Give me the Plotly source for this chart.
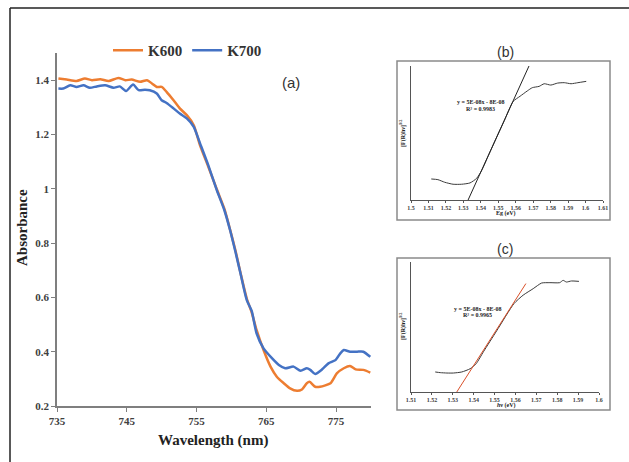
import plotly.graph_objects as go

W, H = 629, 462

# ---- main panel (a) data ----
k600_x = [735.2, 736.4, 737.8, 739.0, 740.0, 741.2, 742.4, 743.8, 744.8, 745.7, 746.9, 747.9,
          748.6, 749.3, 750.0, 750.7, 751.7, 752.6, 753.6, 754.6, 755.5, 756.7, 757.9, 759.0,
          759.8, 760.6, 761.3, 762.2, 762.9, 763.6, 764.6, 765.6, 766.5, 767.5, 768.4, 769.4,
          770.1, 770.8, 771.2, 772.0, 772.7, 774.2, 775.1, 776.1, 777.0, 777.8, 778.9, 779.9]
k600_y = [1.406, 1.402, 1.397, 1.406, 1.400, 1.403, 1.397, 1.408, 1.400, 1.402, 1.394, 1.400,
          1.388, 1.375, 1.375, 1.357, 1.326, 1.296, 1.271, 1.234, 1.160, 1.080, 0.998, 0.925,
          0.850, 0.770, 0.690, 0.595, 0.545, 0.480, 0.406, 0.345, 0.308, 0.284, 0.265, 0.256,
          0.261, 0.284, 0.289, 0.271, 0.271, 0.284, 0.320, 0.339, 0.347, 0.335, 0.333, 0.323]

k700_x = [735.2, 735.9, 736.9, 737.8, 738.8, 739.7, 740.7, 741.9, 743.1, 744.0, 744.9, 745.9,
          746.7, 747.6, 748.3, 749.3, 750.0, 750.7, 751.7, 752.6, 753.6, 754.6, 755.5, 756.7,
          757.9, 759.0, 759.8, 760.6, 761.3, 762.2, 762.9, 763.6, 764.6, 765.8, 766.8, 767.7,
          768.9, 769.9, 770.8, 771.3, 772.0, 773.0, 773.9, 774.9, 775.6, 776.1, 777.0, 778.0,
          778.9, 779.9]
k700_y = [1.369, 1.369, 1.381, 1.375, 1.381, 1.372, 1.377, 1.381, 1.372, 1.377, 1.360, 1.384,
          1.363, 1.365, 1.363, 1.351, 1.326, 1.316, 1.296, 1.277, 1.259, 1.228, 1.167, 1.085,
          0.995, 0.920, 0.848, 0.765, 0.688, 0.590, 0.550, 0.468, 0.412, 0.376, 0.351, 0.339,
          0.345, 0.330, 0.339, 0.333, 0.318, 0.335, 0.357, 0.369, 0.394, 0.406, 0.400, 0.400,
          0.400, 0.381]

# ---- inset (b) data ----
b_x = [1.5116, 1.5154, 1.5193, 1.5241, 1.5290, 1.5338, 1.5376, 1.5405, 1.5444, 1.5490, 1.5535,
       1.5585, 1.5625, 1.5666, 1.5695, 1.5734, 1.5763, 1.5801, 1.5840, 1.5878, 1.5917, 1.5956, 1.6004]
b_y = [0.160, 0.155, 0.135, 0.120, 0.120, 0.130, 0.165, 0.225, 0.340, 0.475, 0.605,
       0.750, 0.790, 0.830, 0.855, 0.865, 0.885, 0.875, 0.890, 0.893, 0.885, 0.893, 0.903]
b_fit_x = [1.5327, 1.5676]
b_fit_y = [0.0, 1.02]

# ---- inset (c) data ----
c_x = [1.5216, 1.5240, 1.5272, 1.5303, 1.5343, 1.5383, 1.5412, 1.5447, 1.5510, 1.5593, 1.5637,
       1.5685, 1.5725, 1.5765, 1.5812, 1.5828, 1.5844, 1.5868, 1.5904]
c_y = [0.154, 0.149, 0.146, 0.146, 0.154, 0.179, 0.218, 0.310, 0.470, 0.680, 0.745,
       0.795, 0.838, 0.841, 0.841, 0.859, 0.846, 0.854, 0.851]
c_fit_x = [1.5319, 1.5650]
c_fit_y = [0.0, 0.834]

b_ticks = [1.5, 1.51, 1.52, 1.53, 1.54, 1.55, 1.56, 1.57, 1.58, 1.59, 1.6, 1.61]
b_ticklabels = ["1.5", "1.51", "1.52", "1.53", "1.54", "1.55", "1.56", "1.57", "1.58", "1.59", "1.6", "1.61"]
c_ticks = [1.51, 1.52, 1.53, 1.54, 1.55, 1.56, 1.57, 1.58, 1.59, 1.6]
c_ticklabels = ["1.51", "1.52", "1.53", "1.54", "1.55", "1.56", "1.57", "1.58", "1.59", "1.6"]


def px(x):
    return x / W


def py(y):
    return 1 - y / H


SERIF = "Liberation Serif"
SANS = "Liberation Sans"

fig = go.Figure()
fig.add_trace(go.Scatter(x=k600_x, y=k600_y, mode="lines", name="K600",
                         line=dict(color="#ED7D31", width=2.5, shape="spline", smoothing=0.6),
                         xaxis="x", yaxis="y"))
fig.add_trace(go.Scatter(x=k700_x, y=k700_y, mode="lines", name="K700",
                         line=dict(color="#4472C4", width=2.5, shape="spline", smoothing=0.6),
                         xaxis="x", yaxis="y"))
fig.add_trace(go.Scatter(x=b_x, y=b_y, mode="lines", showlegend=False,
                         line=dict(color="#3a3a3a", width=1, shape="spline", smoothing=0.6),
                         xaxis="x2", yaxis="y2"))
fig.add_trace(go.Scatter(x=b_fit_x, y=b_fit_y, mode="lines", showlegend=False,
                         line=dict(color="#222222", width=1), xaxis="x2", yaxis="y2"))
fig.add_trace(go.Scatter(x=c_x, y=c_y, mode="lines", showlegend=False,
                         line=dict(color="#3a3a3a", width=1, shape="spline", smoothing=0.6),
                         xaxis="x3", yaxis="y3"))
fig.add_trace(go.Scatter(x=c_fit_x, y=c_fit_y, mode="lines", showlegend=False,
                         line=dict(color="#D9502A", width=1), xaxis="x3", yaxis="y3"))

axcol = "#7f7f7f"
tickfont_main = dict(family=SERIF, size=11, color="#404040", weight="bold")
tickfont_small = dict(family=SERIF, size=6, color="#404040", weight="bold")

layout = dict(
    width=W, height=H,
    margin=dict(l=0, r=0, t=0, b=0, autoexpand=False),
    paper_bgcolor="white", plot_bgcolor="white",
    showlegend=True,
    legend=dict(orientation="h", x=px(108), y=py(34), xanchor="left", yanchor="top",
                font=dict(family=SERIF, size=15, color="#333333", weight="bold"),
                bgcolor="rgba(0,0,0,0)", itemwidth=30, tracegroupgap=0),
    xaxis=dict(domain=[px(57), px(371)], range=[735, 780], anchor="y", automargin=False,
               tickvals=[735, 745, 755, 765, 775], showgrid=False, zeroline=False,
               showline=True, linecolor=axcol, linewidth=1.5, ticks="outside",
               ticklen=4, tickcolor=axcol, tickfont=tickfont_main),
    yaxis=dict(domain=[py(406), py(53)], range=[0.2, 1.5], anchor="x", automargin=False,
               tickvals=[0.2, 0.4, 0.6, 0.8, 1.0, 1.2, 1.4],
               ticktext=["0.2", "0.4", "0.6", "0.8", "1", "1.2", "1.4"],
               showgrid=False, zeroline=False,
               showline=True, linecolor=axcol, linewidth=1.5, ticks="outside",
               ticklen=4, tickcolor=axcol, tickfont=tickfont_main),
    xaxis2=dict(domain=[px(411), px(603)], range=[1.5, 1.61], anchor="y2", automargin=False,
                tickvals=b_ticks, ticktext=b_ticklabels, showgrid=False, zeroline=False,
                showline=True, linecolor="#555555", linewidth=1, ticks="outside",
                ticklen=2, tickcolor="#555555", tickfont=tickfont_small),
    yaxis2=dict(domain=[py(200), py(66)], range=[0, 1.02], anchor="x2", automargin=False,
                showticklabels=False, showgrid=False, zeroline=False,
                showline=True, linecolor="#555555", linewidth=1, ticks=""),
    xaxis3=dict(domain=[px(411), px(599)], range=[1.51, 1.6], anchor="y3", automargin=False,
                tickvals=c_ticks, ticktext=c_ticklabels, showgrid=False, zeroline=False,
                showline=True, linecolor="#555555", linewidth=1, ticks="outside",
                ticklen=2, tickcolor="#555555", tickfont=tickfont_small),
    yaxis3=dict(domain=[py(392), py(262)], range=[0, 1], anchor="x3", automargin=False,
                showticklabels=False, showgrid=False, zeroline=False,
                showline=True, linecolor="#555555", linewidth=1, ticks=""),
)
fig.update_layout(**layout)

shapes = [
    # outer frame (top and left edges visible)
    dict(type="line", xref="paper", yref="paper", x0=px(10), y0=py(8), x1=1, y1=py(8),
         line=dict(color="#222222", width=1.5)),
    dict(type="line", xref="paper", yref="paper", x0=px(10), y0=py(8), x1=px(10), y1=0,
         line=dict(color="#222222", width=1.5)),
    # inset frames
    dict(type="rect", xref="paper", yref="paper", x0=px(397), y0=py(220), x1=px(610), y1=py(61),
         line=dict(color="#8a8a8a", width=1.5)),
    dict(type="rect", xref="paper", yref="paper", x0=px(397), y0=py(410), x1=px(610), y1=py(258),
         line=dict(color="#8a8a8a", width=1.5)),
]
fig.update_layout(shapes=shapes)

ann = []


def A(text, x, y, size, family=SERIF, weight="bold", color="#222222", angle=0, style="normal"):
    ann.append(dict(text=text, x=px(x), y=py(y), xref="paper", yref="paper",
                    showarrow=False, xanchor="center", yanchor="middle", textangle=angle,
                    font=dict(family=family, size=size, color=color, weight=weight, style=style)))


A("Absorbance", 22, 228, 15, angle=-90)
A("Wavelength (nm)", 213, 440, 15)
A("(a)", 291, 83, 15, family=SANS, weight="normal", color="#333333")
A("(b)", 505, 52, 14, family=SANS, weight="normal", color="#333333")
A("(c)", 505, 249, 14, family=SANS, weight="normal", color="#333333")
A("Eg (eV)", 506, 213, 6)
A("<i>h</i>ν (eV)", 506, 405, 6)
A("[F(R)hν]<sup>1/2</sup>", 402, 134, 6, angle=-90)
A("[F(R)hν]<sup>1/2</sup>", 402, 327, 6, angle=-90)
A("y = 5E-08x - 8E-08", 480, 102, 6)
A("R² = 0.9983", 480, 109, 6)
A("y = 5E-08x - 8E-08", 477, 309, 6)
A("R² = 0.9965", 477, 315, 6)
fig.update_layout(annotations=ann)

fig.write_html("out.html", config={"displayModeBar": False},
               post_script="document.body.style.margin='0';document.body.style.padding='0';")
